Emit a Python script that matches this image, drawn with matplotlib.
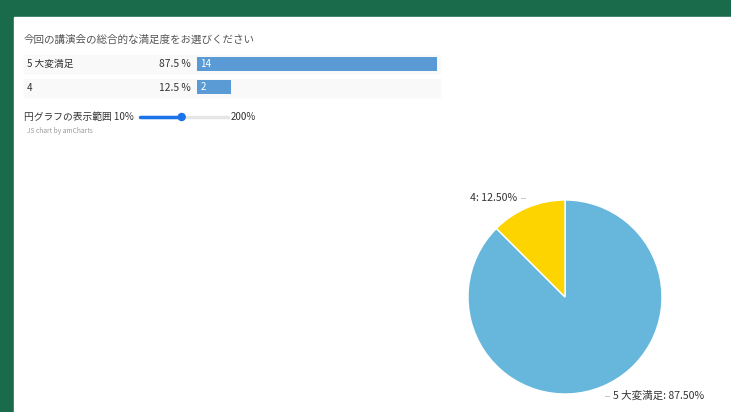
import numpy as np
import matplotlib.pyplot as plt
from matplotlib.patches import Rectangle, Circle

plt.rcParams['font.family'] = ['Noto Sans CJK JP', 'DejaVu Sans']

# =============================================================================
# data
# =============================================================================
title = '今回の講演会の総合的な満足度をお選びください'
categories = ['5 大変満足', '4']
counts = [14, 2]
percents = [87.5, 12.5]
pie_labels = ['5 大変満足: 87.50%', '4: 12.50%']
pie_colors = ['#67b7dc', '#fdd400']
bar_color = '#5b9bd5'
slider_label = '円グラフの表示範囲'
slider_min, slider_max, slider_val = 10, 200, 100

W, H = 731, 412


def fig_box(x0, y0, x1, y1):
    # pixel box (top-left origin) -> figure fraction
    return [x0 / W, 1 - y1 / H, (x1 - x0) / W, (y1 - y0) / H]


fig = plt.figure(figsize=(W / 100, H / 100), dpi=100)
fig.patch.set_facecolor('#1a6b4c')

# background / page in pixel coords
bg = fig.add_axes([0, 0, 1, 1])
bg.set_xlim(0, W)
bg.set_ylim(H, 0)
bg.axis('off')
bg.add_patch(Rectangle((14, 17), W - 14, H - 17, color='white', zorder=0))

bg.text(24, 40, title, fontsize=7.6, color='#555555', va='center')

# row backgrounds and labels
row_y = [64, 87.5]
for i, cat in enumerate(categories):
    bg.add_patch(Rectangle((24, row_y[i] - 9), 416, 18, color='#f9f9f9', zorder=1))
    bg.text(27, row_y[i], cat, fontsize=7, color='#333333', va='center', zorder=2)
    bg.text(191, row_y[i], f'{percents[i]} %', fontsize=7.4, color='#333333',
            va='center', ha='right', zorder=2)

# =============================================================================
# bars
# =============================================================================
axb = fig.add_axes(fig_box(197, 52.5, 437, 99))
axb.barh(range(len(counts)), counts, height=0.6, color=bar_color)
axb.set_xlim(0, max(counts))
axb.set_ylim(1.5, -0.5)
axb.axis('off')
for i, c in enumerate(counts):
    axb.text(0.2, i, str(c), color='white', fontsize=7, va='center')

# =============================================================================
# slider
# =============================================================================
sx0, sx1, sy = 140, 228, 117
knob = sx0 + (slider_val - slider_min) / (slider_max - slider_min) * (sx1 - sx0)
bg.text(24, sy, slider_label + f' {slider_min}%', fontsize=7, color='#333333', va='center')
bg.plot([sx0, sx1], [sy, sy], color='#e6e6e6', lw=2.5, solid_capstyle='round')
bg.plot([sx0, knob], [sy, sy], color='#1a73e8', lw=2.5, solid_capstyle='round')
bg.add_patch(Circle((knob, sy), 3.5, color='#1a73e8', zorder=5))
bg.text(231, sy, f'{slider_max}%', fontsize=7, color='#333333', va='center')
bg.text(27, 131, 'JS chart by amCharts', fontsize=4.8, color='#999999', va='center')

# =============================================================================
# pie
# =============================================================================
axp = fig.add_axes(fig_box(468, 200, 662, 394))
wedges, _ = axp.pie(counts, colors=pie_colors, startangle=90, counterclock=False,
                    radius=1, wedgeprops=dict(linewidth=1, edgecolor='white'))
axp.set_xlim(-1, 1)
axp.set_ylim(-1, 1)
axp.set_aspect('equal')
for w, lab in zip(wedges, pie_labels):
    ang = np.deg2rad((w.theta1 + w.theta2) / 2)
    x, y = 1.19 * np.cos(ang), 1.1 * np.sin(ang)
    ha = 'left' if x > 0 else 'right'
    dx = 0.04 if x > 0 else -0.04
    axp.plot([x - dx, x], [y, y], color='#bbbbbb', lw=0.6, clip_on=False)
    axp.text(x + dx, y, lab, fontsize=7.6, color='#333333', ha=ha, va='center',
             clip_on=False)

fig.savefig('out.png', dpi=100, facecolor=fig.get_facecolor())
